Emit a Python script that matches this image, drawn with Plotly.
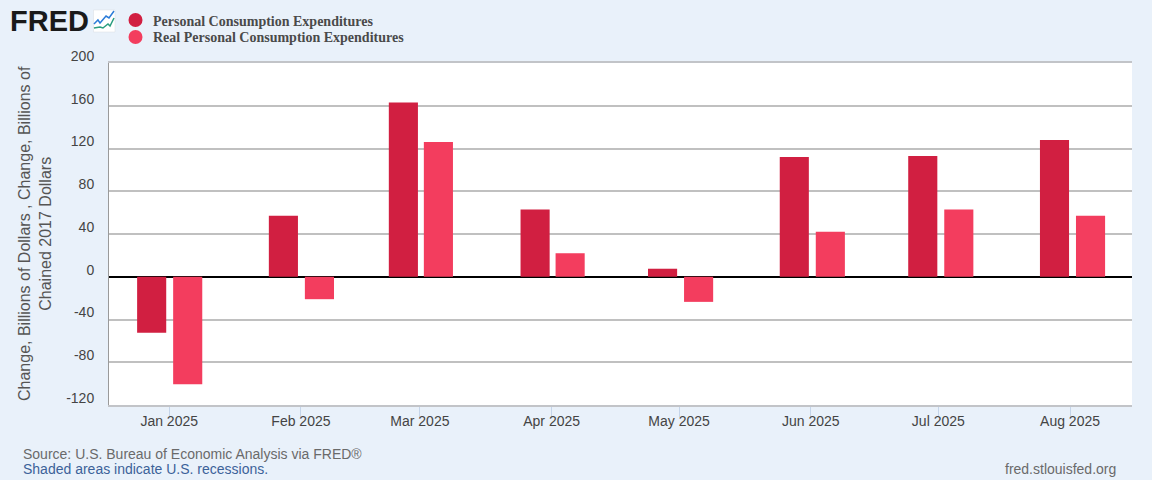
import plotly.graph_objects as go

months = ["2025-01-01", "2025-02-01", "2025-03-01", "2025-04-01",
          "2025-05-01", "2025-06-01", "2025-07-01", "2025-08-01"]
month_labels = ["Jan 2025", "Feb 2025", "Mar 2025", "Apr 2025",
                "May 2025", "Jun 2025", "Jul 2025", "Aug 2025"]
pce = [-52.5, 57, 163, 63, 7.5, 112, 113, 128]
real_pce = [-100.5, -21, 126, 22, -23.5, 42, 63, 57]
y_ticks = [-120, -80, -40, 0, 40, 80, 120, 160, 200]
y_tick_labels = ["-120", "-80", "-40", "0", "40", "80", "120", "160", "200"]
pce_name = "Personal Consumption Expenditures"
real_name = "Real Personal Consumption Expenditures"

RED = "#d11f41"
PINK = "#f33d5e"
BG = "#e9f1fa"
DAY = 86400000
W, H = 1152, 480
L, R, T, B = 109, 1132, 63, 405
PX_DAY = 0.235
red_nudge = [0, 0, 1, 1, 1, 1, 2, 2]
pink_nudge = [0, 0, 0, 0, 1, 1, 2, 2]


def px(x):
    return (x - L) / (R - L)


def py(y):
    return (B - y) / (B - T)


fig = go.Figure()
fig.add_bar(x=months, y=pce, marker_color=RED, marker_line_width=0,
            width=6.85 * DAY, offset=[(-7.55 + n * PX_DAY) * DAY for n in red_nudge],
            showlegend=False, name=pce_name)
fig.add_bar(x=months, y=real_pce, marker_color=PINK, marker_line_width=0,
            width=6.85 * DAY, offset=[(0.93 + n * PX_DAY) * DAY for n in pink_nudge],
            showlegend=False, name=real_name)

shapes = [
    dict(type="rect", xref="paper", yref="paper", x0=px(93.5), x1=px(115), y0=py(32), y1=py(10),
         fillcolor="white", line=dict(color="#d8dde3", width=0.5), layer="above"),
    dict(type="path", xref="paper", yref="paper", layer="above",
         path=" ".join(["M %.4f %.4f" % (px(94), py(24))] +
                       ["L %.4f %.4f" % (px(a), py(b)) for a, b in
                        [(98, 20), (100, 23), (106, 16), (109, 18), (114, 11)]]),
         line=dict(color="#2a7bd8", width=1.5)),
    dict(type="path", xref="paper", yref="paper", layer="above",
         path=" ".join(["M %.4f %.4f" % (px(94), py(28))] +
                       ["L %.4f %.4f" % (px(a), py(b)) for a, b in
                        [(100, 27), (103, 28), (108, 24), (110, 26), (114, 18)]]),
         line=dict(color="#2a9d7f", width=1.5)),
    dict(type="circle", xref="paper", yref="paper", x0=px(128.5), x1=px(142.5), y0=py(27), y1=py(13),
         fillcolor=RED, line_width=0),
    dict(type="circle", xref="paper", yref="paper", x0=px(128.5), x1=px(142.5), y0=py(44), y1=py(30),
         fillcolor=PINK, line_width=0),
]

annots = [
    dict(text="<b>FRED</b>", x=px(7.5), y=py(20.5), xanchor="left", yanchor="middle",
         font=dict(family="Liberation Sans", size=29, color="#1a1a1a")),
    dict(text="<b>%s</b>" % pce_name, x=px(151), y=py(21), xanchor="left", yanchor="middle",
         font=dict(family="Liberation Serif", size=14, color="#4a4a4a")),
    dict(text="<b>%s</b>" % real_name, x=px(151), y=py(38), xanchor="left", yanchor="middle",
         font=dict(family="Liberation Serif", size=14, color="#4a4a4a")),
    dict(text="Source: U.S. Bureau of Economic Analysis via FRED®", x=px(21), y=py(454),
         xanchor="left", yanchor="middle",
         font=dict(family="Liberation Sans", size=14, color="#6a6a6a")),
    dict(text="Shaded areas indicate U.S. recessions.", x=px(21), y=py(469),
         xanchor="left", yanchor="middle",
         font=dict(family="Liberation Sans", size=14, color="#3c6299")),
    dict(text="fred.stlouisfed.org", x=px(1118), y=py(469), xanchor="right", yanchor="middle",
         font=dict(family="Liberation Sans", size=14, color="#6a6a6a")),
    dict(text="Change, Billions of Dollars , Change, Billions of<br>Chained 2017 Dollars",
         x=px(35), y=py(234), textangle=-90, xanchor="center", yanchor="middle",
         font=dict(family="Liberation Sans", size=16, color="#555555")),
]
for a in annots:
    a.update(xref="paper", yref="paper", showarrow=False)

fig.update_layout(
    width=W, height=H, autosize=False,
    barmode="overlay",
    paper_bgcolor=BG, plot_bgcolor="white",
    margin=dict(l=L, r=W - R, t=T, b=H - B, pad=0),
    font=dict(family="Liberation Sans", size=14, color="#444444"),
    showlegend=False,
    shapes=shapes,
    annotations=annots,
    xaxis=dict(
        type="date", range=["2024-12-17 20:00", "2025-08-15 14:00"],
        tickmode="array", tickvals=months, ticktext=month_labels,
        ticks="outside", ticklen=10, tickwidth=1, tickcolor="#c5d5ea",
        showgrid=False, showline=True, linecolor="#c2c4c8", linewidth=2, mirror=True,
        tickfont=dict(size=14, color="#444444"), zeroline=False, ticklabelstandoff=-8,
    ),
    yaxis=dict(
        range=[-120, 200], tickmode="array", tickvals=y_ticks, ticktext=y_tick_labels,
        ticks="", showgrid=True, gridcolor="#c0c0c0", gridwidth=2,
        showline=True, linecolor="#9a9a9a", linewidth=1,
        zeroline=True, zerolinecolor="#000000", zerolinewidth=2,
        tickfont=dict(size=14, color="#444444"), ticklabelshift=-7, ticklabelstandoff=11,
    ),
)

fig.write_html("out.html", config={"displayModeBar": False},
               post_script="document.body.style.margin='0';document.body.style.background='%s';" % BG)
